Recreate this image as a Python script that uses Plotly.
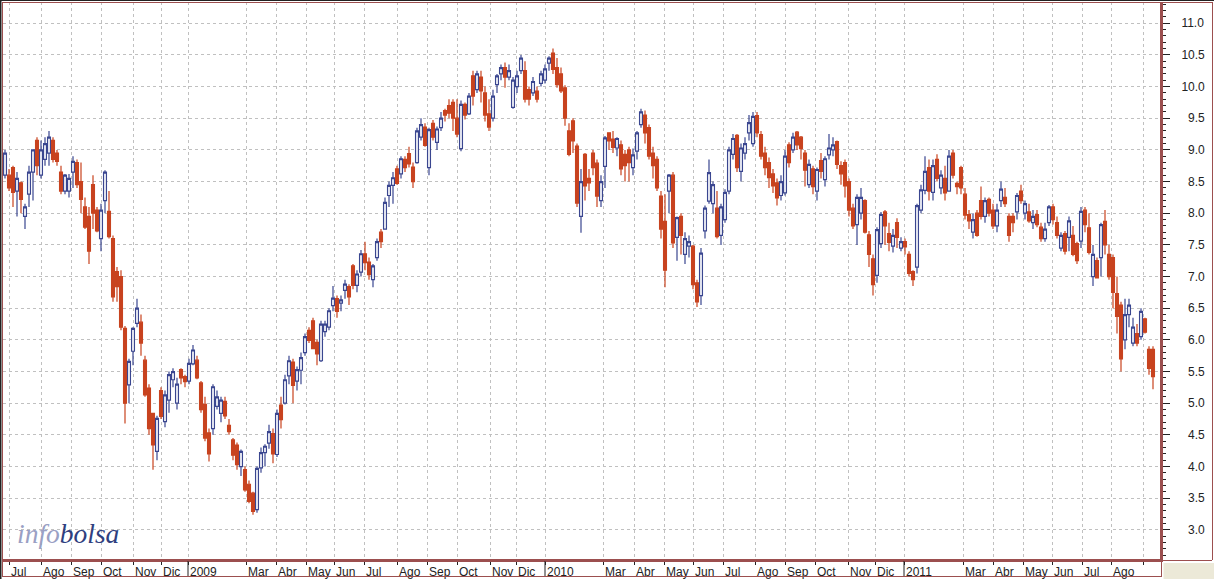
import plotly.graph_objects as go

opens = [8.6,8.6,8.72,8.35,8.48,7.95,8.3,8.65,9.15,8.6,8.85,8.95,9.15,8.95,8.65,8.35,8.35,8.65,8.8,8.5,
8.1,7.95,8.45,8.05,7.6,8.2,8.03,7.6,7.08,7.0,6.18,5.29,5.82,6.26,6.28,5.68,5.24,4.84,4.24,5.2,
4.71,5.05,5.37,5.0,5.53,5.42,5.35,5.62,5.68,5.32,4.98,4.53,4.6,4.95,4.84,5.03,4.65,4.42,4.34,4.0,
3.95,3.72,3.58,3.32,3.98,4.22,4.37,4.52,4.19,4.97,5.0,5.43,5.65,5.35,5.52,5.8,6.15,6.3,5.96,5.67,
6.13,6.2,6.54,6.65,6.58,6.78,6.84,7.17,6.86,7.07,7.36,7.23,6.95,7.3,7.7,7.75,8.28,8.44,8.7,8.62,
8.85,8.94,8.73,8.8,9.2,9.36,8.72,9.42,9.12,9.35,9.62,9.7,9.75,9.5,9.02,9.72,9.57,10.17,9.95,10.15,
9.9,9.57,9.5,10.03,10.2,10.3,10.15,9.67,10.0,10.25,10.25,9.95,9.9,9.93,10.05,10.1,10.37,10.53,10.3,10.2,
9.98,9.3,9.46,9.06,7.95,8.93,8.55,8.95,8.79,8.2,8.74,9.27,9.17,9.03,9.08,8.93,9.0,8.72,8.98,9.4,
9.55,9.35,8.95,8.85,8.27,7.87,8.35,8.6,7.62,7.95,7.35,7.48,7.48,6.9,6.7,7.72,8.19,8.15,8.08,7.65,
7.9,8.35,8.93,9.23,8.66,8.95,9.27,9.1,9.54,9.24,8.95,8.8,8.62,8.48,8.28,8.32,9.08,9.0,9.28,9.2,
8.95,8.45,8.7,8.35,8.83,8.53,8.92,9.0,9.13,8.75,8.8,8.5,8.08,7.82,8.0,8.2,7.66,7.28,7.02,7.52,
8.02,7.68,7.48,7.85,7.45,7.55,7.35,7.08,7.15,8.05,8.36,8.72,8.33,8.85,8.4,8.55,8.35,8.95,8.47,8.72,
8.3,7.98,7.7,8.0,8.2,7.95,8.22,8.05,7.8,8.2,8.25,7.95,7.95,8.02,8.35,8.0,8.02,7.85,7.98,7.78,
7.6,7.85,8.1,7.85,7.45,7.68,7.62,7.65,7.52,7.56,8.05,7.77,7.0,7.25,7.3,7.87,7.35,7.3,6.73,6.55,
6.0,6.4,5.95,6.1,6.05,6.33,5.85,5.85]
closes = [8.95,8.4,8.33,8.55,8.22,8.1,8.65,9.0,8.75,9.0,9.1,9.2,8.85,8.82,8.35,8.6,8.55,8.82,8.45,8.22,
7.78,7.4,8.0,7.72,8.05,8.65,7.63,6.68,6.84,6.2,5.0,5.66,6.18,6.5,5.95,5.13,4.6,4.34,4.76,4.79,
5.13,5.45,5.5,5.3,5.4,5.34,5.63,5.84,5.4,4.9,4.45,4.2,5.26,5.1,5.05,4.8,4.55,4.18,4.03,4.24,
3.63,3.45,3.29,3.97,4.22,4.32,4.55,4.2,4.84,4.74,5.37,5.67,5.28,5.53,5.72,6.05,5.99,5.86,5.78,6.25,
6.25,6.46,6.66,6.45,6.63,6.88,6.68,6.86,7.04,7.36,7.22,7.03,7.17,7.55,7.55,8.17,8.44,8.56,8.47,8.86,
8.72,8.78,8.5,9.3,9.4,9.07,9.32,9.2,9.33,9.5,9.55,9.58,9.5,9.25,9.72,9.55,9.85,9.85,10.2,9.93,
9.55,9.36,9.85,10.17,10.3,10.15,10.25,10.1,10.17,10.45,9.8,9.8,10.08,9.8,10.2,10.28,10.45,10.27,10.03,9.93,
9.5,8.93,9.14,8.16,8.5,8.43,8.48,8.72,8.27,8.5,9.19,9.14,9.04,9.18,8.7,8.75,8.8,8.92,9.27,9.6,
9.27,8.9,8.75,8.4,7.75,7.1,8.6,7.53,7.93,7.65,7.6,7.55,6.87,6.6,7.37,8.08,8.64,8.45,7.63,8.1,
8.33,9.0,9.18,8.72,9.03,9.1,9.43,9.53,9.27,8.9,8.72,8.56,8.43,8.24,8.5,8.9,8.8,9.2,9.08,9.02,
8.68,8.77,8.42,8.69,8.66,8.86,9.03,9.08,8.77,8.62,8.43,8.05,7.8,8.25,8.25,7.7,7.35,6.87,7.74,7.98,
7.8,7.54,7.65,7.62,7.55,7.47,7.05,6.95,8.12,8.37,8.66,8.35,8.75,8.55,8.6,8.32,8.9,8.6,8.42,8.4,
7.97,7.88,7.9,7.65,7.95,8.2,8.0,7.8,8.05,8.38,8.15,7.65,7.85,8.28,8.2,8.15,7.88,7.95,7.82,7.6,
7.75,8.1,7.9,7.65,7.65,7.4,7.88,7.35,7.25,8.03,7.82,7.38,7.35,6.98,7.82,7.5,7.0,6.75,6.37,5.7,
6.4,6.55,6.2,5.95,6.45,6.12,5.55,5.42]
highs = [9.0,8.7,8.75,8.65,8.5,8.15,8.75,9.0,9.2,9.15,9.2,9.3,9.2,9.0,8.75,8.62,8.62,8.9,8.85,8.8,
8.25,8.1,8.6,8.1,8.15,8.68,8.35,7.65,7.15,7.1,6.22,5.7,6.2,6.65,6.4,5.75,5.3,4.85,4.8,5.25,
5.2,5.5,5.55,5.4,5.55,5.45,5.7,5.92,5.75,5.35,5.1,4.6,5.3,5.2,5.1,5.1,4.75,4.45,4.38,4.27,
4.0,3.78,3.6,4.0,4.3,4.35,4.66,4.6,4.9,5.1,5.45,5.75,5.7,5.58,5.8,6.1,6.2,6.35,6.0,6.3,
6.3,6.5,6.85,6.7,6.7,6.95,6.88,7.2,7.1,7.42,7.55,7.3,7.2,7.6,7.75,8.25,8.5,8.65,8.75,8.9,
8.9,9.05,8.8,9.35,9.5,9.42,9.35,9.47,9.37,9.6,9.65,9.8,9.8,9.8,9.78,9.75,9.9,10.25,10.25,10.25,
10.0,9.8,9.95,10.2,10.35,10.38,10.35,10.15,10.25,10.5,10.4,10.0,10.15,10.0,10.25,10.35,10.48,10.6,10.45,10.3,
10.02,9.42,9.5,9.1,8.7,8.95,8.7,9.0,8.85,8.6,9.22,9.28,9.3,9.2,9.15,9.0,9.05,9.02,9.3,9.65,
9.62,9.4,9.05,8.9,8.35,8.3,8.62,8.65,7.95,8.0,7.7,7.65,7.5,6.95,7.45,8.12,8.85,8.5,8.35,8.15,
8.38,9.05,9.25,9.25,9.1,9.2,9.55,9.6,9.6,9.3,9.05,8.88,8.7,8.55,8.6,9.0,9.12,9.27,9.3,9.22,
9.0,8.85,8.75,8.72,8.95,8.9,9.25,9.2,9.15,8.82,8.85,8.55,8.15,8.3,8.4,8.22,7.72,7.35,7.78,8.02,
8.05,7.85,7.75,7.92,7.62,7.6,7.4,7.1,8.15,8.45,8.9,8.85,8.85,8.93,8.68,8.75,9.0,9.0,8.5,8.75,
8.4,8.05,8.0,8.05,8.42,8.25,8.25,8.15,8.15,8.5,8.4,8.0,8.0,8.32,8.45,8.2,8.15,8.05,8.05,7.85,
7.85,8.13,8.15,7.95,7.7,7.72,7.95,7.8,7.55,8.1,8.1,8.0,7.5,7.3,7.85,8.05,7.5,7.35,7.0,6.6,
6.65,6.65,6.35,6.25,6.5,6.35,5.9,5.9]
lows = [8.55,8.35,8.1,7.95,8.0,7.75,8.1,8.2,8.6,8.55,8.75,8.75,8.8,8.75,8.3,8.3,8.25,8.4,8.4,8.0,
7.75,7.2,7.75,7.7,7.4,8.0,7.6,6.6,6.6,6.15,4.68,5.0,5.6,6.2,5.75,5.1,4.5,3.95,4.1,4.75,
4.62,4.85,5.25,4.9,5.3,5.25,5.3,5.6,5.38,4.85,4.4,4.08,4.5,4.9,4.7,4.75,4.5,4.1,3.95,3.85,
3.6,3.42,3.24,3.27,3.9,4.0,4.28,4.05,4.15,4.6,4.98,5.3,5.0,5.2,5.3,5.75,5.95,5.85,5.6,5.65,
6.05,6.15,6.45,6.35,6.45,6.65,6.55,6.8,6.75,7.0,7.1,6.95,6.83,7.25,7.45,7.75,8.1,8.15,8.45,8.55,
8.65,8.72,8.4,8.78,9.15,9.05,8.6,9.15,9.0,9.3,9.45,9.5,9.3,9.2,8.98,9.48,9.55,9.7,9.9,9.75,
9.45,9.3,9.45,9.9,10.1,9.98,10.1,9.65,9.9,10.2,9.75,9.7,9.85,9.75,10.0,10.05,10.25,10.2,9.98,9.9,
9.38,8.9,8.95,8.1,7.69,8.2,8.35,8.6,8.1,8.1,8.4,9.0,8.95,8.9,8.6,8.5,8.5,8.6,8.85,9.35,
9.1,8.85,8.55,8.35,7.6,6.83,8.0,7.45,7.25,7.35,7.2,7.3,6.8,6.52,6.55,7.6,8.15,8.0,7.6,7.5,
7.85,8.3,8.85,8.65,8.5,8.85,9.15,9.05,9.2,8.85,8.6,8.4,8.32,8.12,8.2,8.28,8.72,8.95,9.0,8.85,
8.42,8.4,8.3,8.2,8.55,8.42,8.85,8.9,8.7,8.45,8.25,7.95,7.75,7.5,7.9,7.68,7.15,6.7,6.9,7.45,
7.5,7.4,7.38,7.45,7.4,7.35,7.0,6.85,7.05,8.0,8.3,8.2,8.2,8.5,8.3,8.2,8.35,8.55,8.3,8.3,
7.9,7.75,7.6,7.63,7.9,7.85,7.95,7.75,7.7,8.1,8.1,7.55,7.7,7.9,8.15,7.9,7.85,7.75,7.78,7.55,
7.55,7.8,7.82,7.6,7.4,7.35,7.4,7.32,7.2,7.45,7.7,7.35,6.85,6.97,7.0,7.35,6.95,6.5,6.1,5.5,
5.85,6.2,5.9,5.9,6.0,6.1,5.45,5.22]
assert len(opens) == len(closes) == len(highs) == len(lows), (len(opens), len(closes), len(highs), len(lows))

sessions = list(range(len(opens)))

month_labels = ["Jul","Ago","Sep","Oct","Nov","Dic","2009","Mar","Abr","May","Jun","Jul","Ago","Sep","Oct","Nov","Dic",
                "2010","Mar","Abr","May","Jun","Jul","Ago","Sep","Oct","Nov","Dic","2011","Mar","Abr","May","Jun","Jul","Ago",""]
month_sessions = [1,9,16.5,24,32,39,45.75,60.25,67.75,75.25,82.25,89.75,98,105.5,113,121.25,127.75,
                  135,149.5,157.25,164.75,172,179.5,187.5,195,202.5,210.75,217.5,224.75,239.5,247,254.5,261.75,269.25,276.5,284.5]
year_sessions = [45.75,135,224.75]
price_ticks = [3.0,3.5,4.0,4.5,5.0,5.5,6.0,6.5,7.0,7.5,8.0,8.5,9.0,9.5,10.0,10.5,11.0]
price_labels = [("\u2007" if p < 10 else "") + f"{p:.1f}" for p in price_ticks]

RED = "#c8431f"
BLUE = "#3a4690"
FRAME = "#9c4f4f"
GRID = "#c0c0c0"

W, H = 1214, 579
L, R, T, B = 3, 54, 2, 20
pw, ph = W - L - R, H - T - B
px = lambda v: (v - L) / pw
py = lambda v: (H - B - v) / ph

fig = go.Figure(go.Candlestick(
    x=sessions, open=opens, high=highs, low=lows, close=closes,
    increasing=dict(line=dict(color=BLUE, width=1.2), fillcolor="white"),
    decreasing=dict(line=dict(color=RED, width=1.2), fillcolor=RED),
    whiskerwidth=0, showlegend=False,
))

shapes = []
shapes.append(dict(type="rect", xref="paper", yref="paper", x0=px(1163.5), x1=px(1214), y0=py(563), y1=py(579),
                   fillcolor="#ece9d8", line_width=0, layer="below"))
for x0, y0, x1, y1, c, w in [
    (0.5, 0, 0.5, 579, "#222222", 2),
    (2.5, 2, 2.5, 577, FRAME, 1),
    (0, 0.5, 1214, 0.5, "#222222", 1),
    (2, 2.5, 1212, 2.5, FRAME, 1),
    (2, 576.5, 1162, 576.5, FRAME, 1),
    (1162, 560.5, 1212, 560.5, FRAME, 1),
    (1212.5, 2, 1212.5, 560, FRAME, 1),
    (1161.5, 561, 1161.5, 577, FRAME, 1),
]:
    shapes.append(dict(type="line", xref="paper", yref="paper", x0=px(x0), x1=px(x1), y0=py(y0), y1=py(y1),
                       line=dict(color=c, width=w)))
for s in year_sessions:
    shapes.append(dict(type="line", xref="x", yref="paper", x0=s, x1=s, y0=py(561), y1=py(576),
                       line=dict(color="#222222", width=1)))
fig.update_layout(
    template="none",
    width=W, height=H,
    margin=dict(l=L, r=R, t=T, b=B, pad=0),
    paper_bgcolor="white", plot_bgcolor="white",
    font=dict(family="Liberation Sans, Arial, sans-serif", size=12, color="#222222"),
    boxgap=0.1, boxgroupgap=0.2,
    shapes=shapes,
    annotations=[dict(
        xref="paper", yref="paper", x=px(15), y=py(551), xanchor="left", yanchor="bottom", showarrow=False,
        text="<i><span style='color:#9aa0c4'>info</span><span style='color:#2f3f7f'>bolsa</span></i>",
        font=dict(family="Liberation Serif, serif", size=27.5),
    )],
    xaxis=dict(
        automargin=False,
        range=[-0.5, 288.75], rangeslider=dict(visible=False),
        tickmode="array", tickvals=month_sessions, ticktext=month_labels,
        ticks="outside", ticklen=3, tickcolor="#222222", tickwidth=1,
        ticklabelposition="outside right", tickangle=0,
        showgrid=True, gridcolor=GRID, griddash="3px,3px", gridwidth=1,
        showline=True, linecolor=FRAME, linewidth=3, zeroline=False,
        tickfont=dict(size=12),
    ),
    yaxis=dict(
        automargin=False,
        side="right", range=[2.54, 11.335],
        tickmode="array", tickvals=price_ticks, ticktext=price_labels,
        ticks="outside", ticklen=7, tickcolor="#222222", tickwidth=1,
        minor=dict(dtick=0.1, ticks="outside", ticklen=3, tickcolor="#222222", showgrid=False),
        ticklabelstandoff=9,
        showgrid=True, gridcolor=GRID, griddash="3px,3px", gridwidth=1,
        showline=True, linecolor=FRAME, linewidth=3, zeroline=False,
        tickfont=dict(size=12),
    ),
)
fig.write_html("out.html", config=dict(displayModeBar=False), post_script="document.body.style.margin='0';")
